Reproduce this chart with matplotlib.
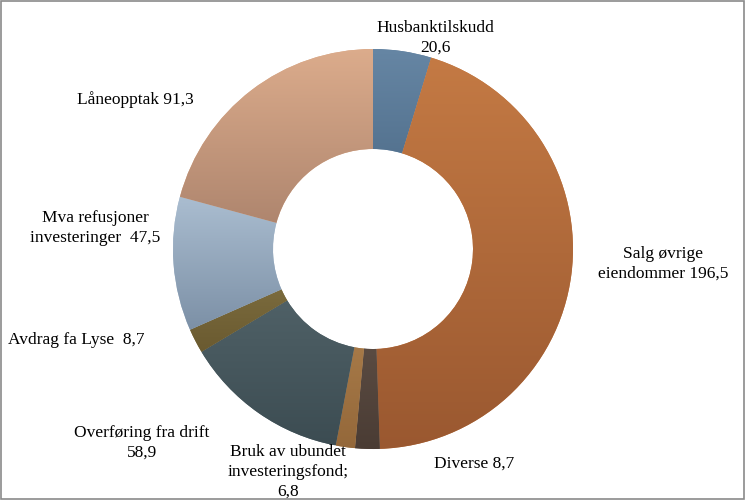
import numpy as np
import matplotlib
matplotlib.use("Agg")
import matplotlib.pyplot as plt
from matplotlib.colors import to_rgb
from matplotlib.patches import Rectangle

categories = ["Husbanktilskudd", "Salg øvrige\neiendommer", "Diverse", "Bruk av ubundet\ninvesteringsfond;",
              "Overføring fra drift", "Avdrag fa Lyse ", "Mva refusjoner\ninvesteringer ", "Låneopptak"]
values = [20.6, 196.5, 8.7, 6.8, 58.9, 8.7, 47.5, 91.3]
label_texts = ["Husbanktilskudd\n20,6", "Salg øvrige\neiendommer 196,5", "Diverse 8,7",
               "Bruk av ubundet\ninvesteringsfond;\n6,8", "Overføring fra drift\n58,9",
               "Avdrag fa Lyse  8,7", "Mva refusjoner\ninvesteringer  47,5", "Låneopptak 91,3"]

top_colors = ["#6686a4", "#c47a44", "#6a5a50", "#b88a55", "#56686e", "#857545", "#aabdd0", "#dcac8c"]
bot_colors = ["#45627e", "#9a5830", "#4a3c34", "#94683a", "#3c4c52", "#6a5a30", "#7c90a6", "#a8806a"]

label_pos = [(0.31, 1.06), (1.45, -0.07), (0.505, -1.07), (-0.425, -1.11),
             (-1.155, -0.965), (-1.485, -0.45), (-1.39, 0.11), (-1.19, 0.75)]

fig = plt.figure(figsize=(7.46, 5.02), dpi=100)
ax = fig.add_axes([0, 0, 1, 1])
ax.set_xlim(-1.865, 1.865)
ax.set_ylim(-1.26, 1.25)
ax.set_aspect("equal")
ax.axis("off")

wedges, _ = ax.pie(values, startangle=90, counterclock=False, radius=1.0,
                   colors=top_colors, wedgeprops=dict(width=0.5, edgecolor="none", linewidth=0))
ax.set_xlim(-1.865, 1.865)
ax.set_ylim(-1.26, 1.25)

grad = np.linspace(0, 1, 256)[:, None]
for w, c1, c2 in zip(wedges, top_colors, bot_colors):
    a = np.array(to_rgb(c1)); b = np.array(to_rgb(c2))
    img = a[None, None, :] * (1 - grad[:, :, None]) + b[None, None, :] * grad[:, :, None]
    verts = w.get_path().vertices
    x0, x1 = verts[:, 0].min(), verts[:, 0].max()
    y0, y1 = verts[:, 1].min(), verts[:, 1].max()
    im = ax.imshow(img, extent=(x0, x1, y0, y1), origin="upper", aspect="auto", zorder=2,
                   interpolation="bilinear")
    im.set_clip_path(w)

for txt, (x, y) in zip(label_texts, label_pos):
    ax.text(x, y, txt, ha="center", va="center", fontsize=12.5, family="Liberation Serif",
            linespacing=1.3, color="#000000", zorder=5)

fig.add_artist(Rectangle((0.002, 0.003), 0.995, 0.993, transform=fig.transFigure,
                         fill=False, edgecolor="#8a8a8a", linewidth=1.2))

fig.savefig("out.png", dpi=100)
